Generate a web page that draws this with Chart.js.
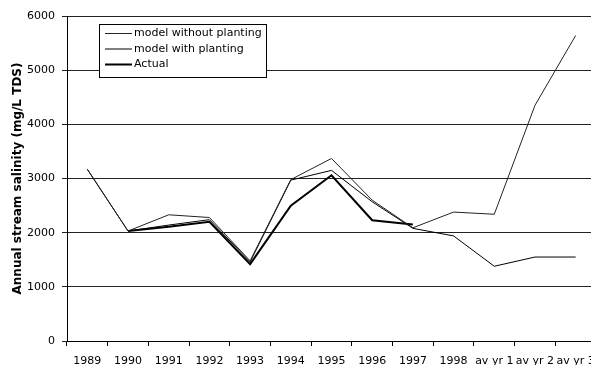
<!DOCTYPE html>
<html>
<head>
<meta charset="utf-8">
<script src="https://cdn.jsdelivr.net/npm/chart.js@4.4.0/dist/chart.umd.min.js"></script>
<style>
    html, body { margin: 0; padding: 0; background: #fff; overflow: hidden; }
    #wrap { width: 600px; height: 365px; }
</style>
</head>
<body>
<div id="wrap"><canvas id="salinityChart" width="600" height="365"></canvas></div>
<script>
// Annual stream salinity, mg/L TDS
const years = ["1989", "1990", "1991", "1992", "1993", "1994", "1995", "1996", "1997", "1998", "av yr 1", "av yr 2", "av yr 3"];
const withoutPlanting = [3170, 2030, 2330, 2280, 1480, 2980, 3370, 2600, 2090, 2380, 2340, 4350, 5640];
const withPlanting = [3170, 2030, 2140, 2240, 1460, 2970, 3150, 2570, 2080, 1940, 1380, 1550, 1550];
const actual = [null, 2030, 2110, 2200, 1420, 2500, 3060, 2230, 2150, null, null, null, null];
const yTicks = [0, 1000, 2000, 3000, 4000, 5000, 6000];

const fontFamily = "'DejaVu Sans', sans-serif";

// Boxed legend drawn inside the plot, top left
const legendBox = {
    id: "legendBox",
    afterDatasetsDraw(chart) {
        const ctx = chart.ctx;
        const x = 99, y = 24, rowH = 15.5;
        ctx.save();
        ctx.font = "11px " + fontFamily;
        const widths = chart.data.datasets.map((d) => ctx.measureText(d.label).width);
        const w = Math.round(35 + Math.max(...widths) + 4);
        const h = 53;
        ctx.fillStyle = "#fff";
        ctx.fillRect(x, y, w, h);
        ctx.strokeStyle = "#000";
        ctx.lineWidth = 1;
        ctx.strokeRect(x + 0.5, y + 0.5, w, h);
        chart.data.datasets.forEach((d, i) => {
            const cy = y + 9.5 + i * rowH;
            ctx.strokeStyle = d.borderColor;
            ctx.lineWidth = d.borderWidth;
            ctx.beginPath();
            ctx.moveTo(x + 6, cy);
            ctx.lineTo(x + 33, cy);
            ctx.stroke();
            ctx.fillStyle = "#000";
            ctx.textBaseline = "middle";
            ctx.fillText(d.label, x + 35, cy);
        });
        ctx.restore();
    }
};

const ctx = document.getElementById("salinityChart").getContext("2d");
new Chart(ctx, {
    type: "line",
    data: {
        labels: years,
        datasets: [
            { label: "model without planting", data: withoutPlanting, borderColor: "#222", borderWidth: 1 },
            { label: "model with planting", data: withPlanting, borderColor: "#000", borderWidth: 1 },
            { label: "Actual", data: actual, borderColor: "#000", borderWidth: 2 },
        ],
    },
    options: {
        responsive: false,
        animation: false,
        devicePixelRatio: 1,
        layout: { padding: { top: 16, right: 4, left: 0, bottom: 0 } },
        elements: {
            point: { radius: 0 },
            line: { tension: 0, fill: false },
        },
        plugins: {
            legend: { display: false },
            tooltip: { enabled: false },
        },
        scales: {
            x: {
                offset: true,
                afterFit: (scale) => {
                    scale.height = 24;
                    // let the last label run past the plot edge
                    scale.paddingLeft = 0;
                    scale.paddingRight = 0;
                },
                grid: { offset: true, drawOnChartArea: false, drawTicks: true, tickLength: 5, color: "#000" },
                border: { color: "#000", width: 1 },
                ticks: {
                    color: "#000",
                    font: { family: fontFamily, size: 11 },
                    maxRotation: 0,
                    autoSkip: false,
                    padding: 9,
                },
            },
            y: {
                min: 0,
                max: 6000,
                afterBuildTicks: (scale) => { scale.ticks = yTicks.map((v) => ({ value: v })); },
                afterFit: (scale) => { scale.width = 67; },
                grid: { color: "#222", tickLength: 5 },
                border: { color: "#000", width: 1 },
                ticks: {
                    color: "#000",
                    font: { family: fontFamily, size: 11 },
                    padding: 7,
                    callback: (value) => String(value),
                },
                title: {
                    display: true,
                    text: "Annual stream salinity (mg/L TDS)",
                    color: "#000",
                    font: { family: fontFamily, size: 12, weight: "bold" },
                    padding: { top: 11, bottom: 0 },
                },
            },
        },
    },
    plugins: [legendBox],
});
</script>
</body>
</html>
